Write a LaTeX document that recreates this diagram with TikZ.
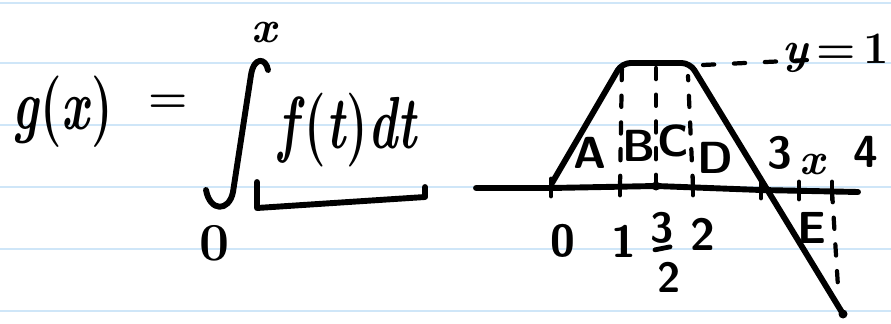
\documentclass[tikz,border=0pt]{standalone}
\usepackage{fontspec}
\usepackage{tikz}
\usetikzlibrary{positioning,calc}
\usepackage{xcolor}
\definecolor{ruled}{RGB}{207,230,248}

\tikzset{
  pen/.style={line width=4.2pt, line cap=round, line join=round},
  dashpen/.style={line width=3pt, line cap=round, dash pattern=on 8pt off 11pt},
  lbl/.style={inner sep=0pt, font=\fontsize{32}{34}\selectfont\sffamily\bfseries},
  small/.style={inner sep=0pt, font=\fontsize{30}{32}\selectfont\sffamily\bfseries},
  bigmath/.style={inner sep=0pt, font=\fontsize{35}{38}\selectfont\bfseries},
  limit/.style={inner sep=0pt, font=\fontsize{32}{34}\selectfont\bfseries}
}

\begin{document}
\begin{tikzpicture}[x=0.25mm,y=-0.25mm]
  \useasboundingbox (0,0) rectangle (891,324);
  % ruled paper
  \foreach \ry in {3,63,125,187,249,311}
    \draw[ruled, line width=1.4pt] (0,\ry) -- (891,\ry);

  % left: the definition
  \node[bigmath] (gx) at (63,112) {\scalebox{1}[1.45]{\textit{g}(\textit{x})}};
  \node[limit] (eq) at (168,104) {=};
  \node[limit] (upper) at (265,33) {\textit{x}};
  \node[limit, font=\fontsize{38}{40}\selectfont\bfseries] (lower) at (215,243) {0};
  \node[bigmath] (fdt) at (348,130) {\scalebox{1}[1.5]{\textit{f}(\textit{t})\textit{dt}}};
  \draw[pen] (268,70) .. controls (266,58) and (254,56) .. (251,75)
    -- (233,192) .. controls (229,212) and (210,212) .. (206,190);
  \coordinate (ul) at (257,182);
  \coordinate (ur) at (425,187);
  \draw[pen] (ul) -- (257,208) -- (425,197) -- (ur);

  % right: the graph of f
  \coordinate (o)   at (551,188);
  \coordinate (one) at (620,187);
  \coordinate (mid) at (656,186);
  \coordinate (two) at (693,187);
  \coordinate (thr) at (761,190);
  \coordinate (xx)  at (799,191);
  \coordinate (fou) at (832,191);
  \coordinate (tl)  at (622,63);
  \coordinate (tr)  at (690,63);
  \coordinate (bot) at (843,314);

  \draw[pen] (476,188) -- (o) -- (mid) -- (thr) -- (858,192);
  \draw[pen, rounded corners=6pt] (552,183) -- (tl) -- (tr) -- (bot);
  \fill (bot) circle (4.5);
  \fill (mid) circle (4.5);

  % ticks
  \foreach \t in {o,one,two,thr,xx,fou}
    \draw[pen, line width=3.4pt] ($(\t)+(0,-9)$) -- ($(\t)+(0,8)$);

  % dashed guides
  \draw[dashpen] (one) -- (tl);
  \draw[dashpen] (mid) -- (656,68);
  \draw[dashpen] (two) -- (688,76);
  \draw[dashpen] (fou) -- (838,287);
  \draw[dashpen, dash pattern=on 8pt off 14pt] (703,65) -- (808,60);

  % labels
  \node[lbl] (ya) at (590,153) {A};
  \node[lbl] (yb) at (639,146) {B};
  \node[lbl] (yc) at (673,141) {C};
  \node[lbl] (yd) at (715,158) {D};
  \node[lbl] (ye) at (812,228) {E};
  \node[lbl] (l3) at (780,153) {3};
  \node[limit] (lx) at (813,165) {\textit{x}};
  \node[lbl] (l4) at (866,152) {4};
  \node[limit, anchor=east] (y1) at (889,53) {\textit{y}\,=\,1};

  \node[lbl] (n0) at (563,241) {0};
  \node[lbl] (n1) at (624,241) {1};
  \node[small] (n3) at (662,228) {3};
  \node[small] (n2b) at (669,277) {2};
  \draw[pen, line width=3.4pt] ($(n3.south)+(-7,6)$) -- ($(n3.south)+(8,3)$);
  \node[lbl] (n2) at (703,234) {2};
\end{tikzpicture}
\end{document}
